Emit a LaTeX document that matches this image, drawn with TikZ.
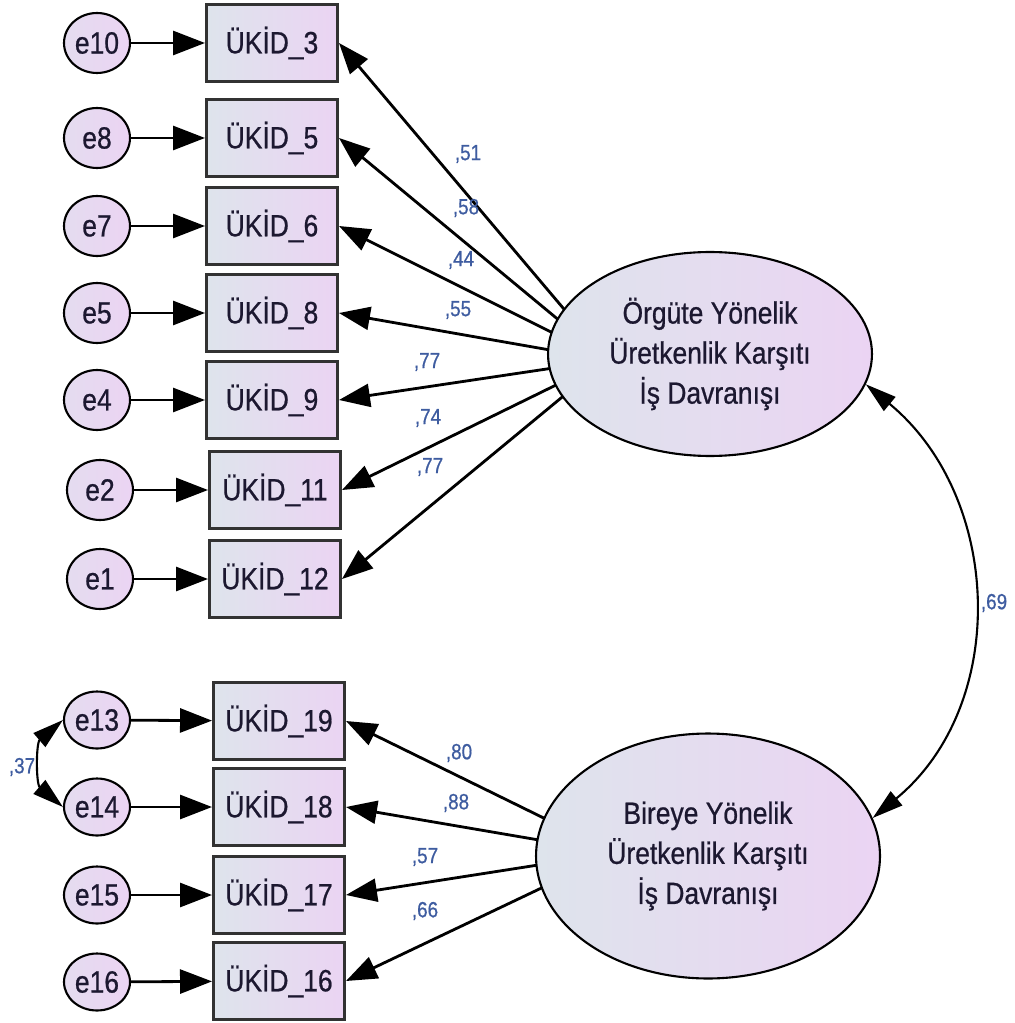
\documentclass[tikz,border=0pt]{standalone}
\usepackage{fontspec}
\setmainfont[FakeStretch=0.86,FakeBold=0.7]{Liberation Sans}
\usetikzlibrary{arrows.meta,shapes.geometric,calc}
\pgfdeclarelayer{background}
\pgfsetlayers{background,main}
\definecolor{shadeL}{RGB}{222,228,236}
\definecolor{shadeR}{RGB}{235,212,243}
\definecolor{ink}{RGB}{28,24,48}
\definecolor{coef}{RGB}{62,92,160}
\definecolor{edge}{RGB}{50,50,50}

\begin{document}
\begin{tikzpicture}[x=0.02cm,y=-0.02cm,
  txt/.style={font=\fontsize{17.5}{22.8}\selectfont, text=ink},
  obs/.style={txt, rectangle, draw=edge, line width=1.7pt,
    left color=shadeL, right color=shadeR,
    minimum width=2.62cm, minimum height=1.54cm, inner sep=0pt},
  err/.style={txt, ellipse, draw=black, line width=1.2pt,
    left color=shadeL!50!shadeR, right color=shadeR,
    minimum width=1.32cm, minimum height=1.2cm, inner sep=0pt},
  errlow/.style={err, minimum height=1.14cm},
  lat/.style={txt, ellipse, draw=black, line width=1.2pt,
    left color=shadeL, right color=shadeR, align=center, inner sep=0pt},
  errline/.style={line width=1.6pt, -{Triangle[length=0.64cm,width=0.48cm]}},
  load/.style={line width=1.6pt, -{Triangle[length=0.62cm,width=0.46cm]}},
  cov/.style={line width=1.2pt,
    {Triangle[length=0.62cm,width=0.36cm]}-{Triangle[length=0.62cm,width=0.36cm]}},
  lbl/.style={font=\fontsize{12.5}{14}\selectfont, text=coef, inner sep=0pt}
]
\useasboundingbox (0,0) rectangle (1014,1023);

% indicators of the first factor
\node[err] (e10) at (97,43)  {e10};
\node[err] (e8)  at (97,138) {e8};
\node[err] (e7)  at (97,226) {e7};
\node[err] (e5)  at (97,313) {e5};
\node[err] (e4)  at (97,400) {e4};
\node[err] (e2)  at (100,490) {e2};
\node[err] (e1)  at (100,579) {e1};

\node[obs] (b3)  at (272,43)  {ÜKİD\_3};
\node[obs] (b5)  at (272,138) {ÜKİD\_5};
\node[obs] (b6)  at (272,226) {ÜKİD\_6};
\node[obs] (b8)  at (272,313) {ÜKİD\_8};
\node[obs] (b9)  at (272,400) {ÜKİD\_9};
\node[obs] (b11) at (275,490) {ÜKİD\_11};
\node[obs] (b12) at (275,579) {ÜKİD\_12};

% indicators of the second factor
\node[errlow] (e13) at (97,720) {e13};
\node[errlow] (e14) at (97,807) {e14};
\node[errlow] (e15) at (97,895) {e15};
\node[errlow] (e16) at (97,982) {e16};

\node[obs] (b19) at (279,721) {ÜKİD\_19};
\node[obs] (b18) at (279,807) {ÜKİD\_18};
\node[obs] (b17) at (279,895) {ÜKİD\_17};
\node[obs] (b16) at (279,981) {ÜKİD\_16};

% latent factors
\node[lat, minimum width=6.48cm, minimum height=4.08cm] (F1) at (710,354)
  {Örgüte Yönelik\\Üretkenlik Karşıtı\\İş Davranışı};
\node[lat, minimum width=6.88cm, minimum height=4.9cm] (F2) at (708,856)
  {Bireye Yönelik\\Üretkenlik Karşıtı\\İş Davranışı};

% points inside the factors where the loading paths converge
\coordinate (F1x) at ($(F1.center)+(-103,6)$);
\coordinate (F2x) at ($(F2.center)+(-93,-3)$);

% error terms
\foreach \e/\b in {e10/b3,e8/b5,e7/b6,e5/b8,e4/b9,e2/b11,e1/b12,
                   e13/b19,e14/b18,e15/b17,e16/b16}
  \draw[errline] (\e) -- (\b);

% factor loadings, hidden under the factor fill
\begin{pgfonlayer}{background}
  \foreach \b in {b3,b5,b6,b8,b9,b11,b12}
    \draw[load] (F1x) -- (\b.east);
  \foreach \b in {b19,b18,b17,b16}
    \draw[load] (F2x) -- (\b.east);
\end{pgfonlayer}

% covariances
\draw[cov] (F1.-11) .. controls +(137,113) and +(137,-113) .. (F2.13);
\draw[cov] (e13.west) .. controls +(-27,23) and +(-27,-23) .. (e14.west);

% estimates
\node[lbl] (l3)  at (468,154) {,51};
\node[lbl] (l5)  at (466,208) {,58};
\node[lbl] (l6)  at (461,260) {,44};
\node[lbl] (l8)  at (458,310) {,55};
\node[lbl] (l9)  at (427,362) {,77};
\node[lbl] (l11) at (428,418) {,74};
\node[lbl] (l12) at (430,467) {,77};
\node[lbl] (l19) at (459,753) {,80};
\node[lbl] (l18) at (456,803) {,88};
\node[lbl] (l17) at (425,857) {,57};
\node[lbl] (l16) at (425,911) {,66};
\node[lbl] (lc1) at (994,603) {,69};
\node[lbl] (lc2) at (22,767)  {,37};
\end{tikzpicture}
\end{document}
